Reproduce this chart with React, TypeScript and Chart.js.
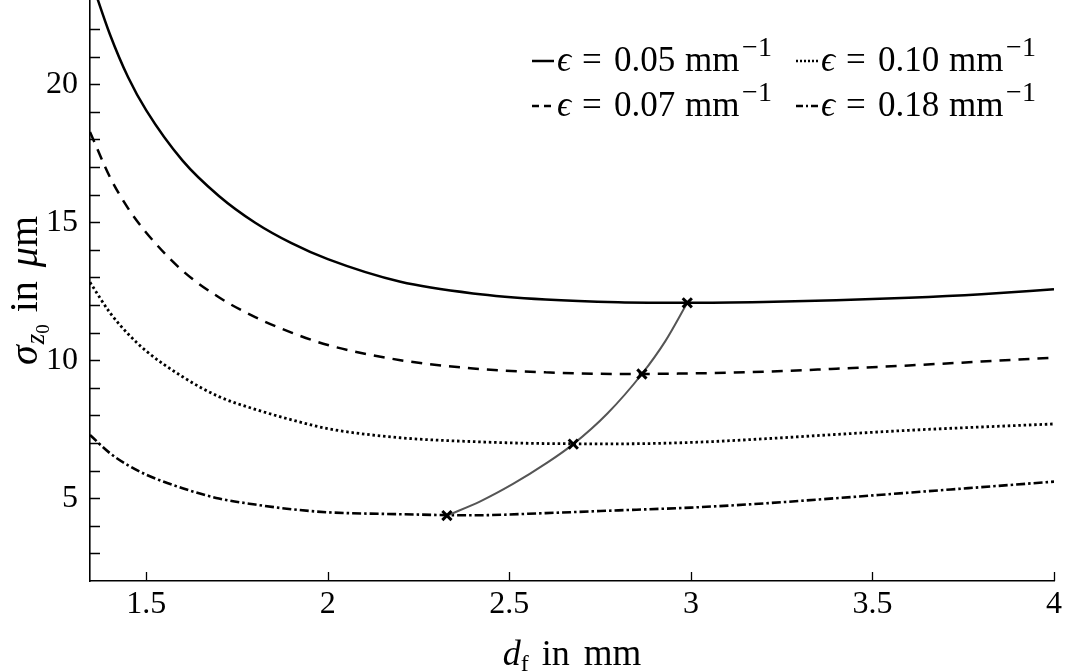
import { useEffect, useRef } from "react";
import { Chart, registerables } from "chart.js";

Chart.register(...registerables);

// ---------- data ----------
const dfGrid = [1.345, 1.4, 1.45, 1.5, 1.6, 1.7, 1.8, 1.9, 2.0, 2.2, 2.4, 2.6, 2.8, 3.0, 3.2, 3.4, 3.6, 3.8, 4.0];
const sigmaEps005 = [23.9, 21.8, 20.25, 19.05, 17.23, 15.95, 14.98, 14.24, 13.66, 12.84, 12.42, 12.2, 12.1, 12.08, 12.11, 12.17, 12.26, 12.39, 12.57];
const sigmaEps007 = [18.27, 16.63, 15.5, 14.62, 13.24, 12.28, 11.56, 11.0, 10.55, 10.0, 9.7, 9.56, 9.5, 9.52, 9.58, 9.69, 9.81, 9.95, 10.09];
const sigmaEps010 = [12.82, 11.72, 10.95, 10.33, 9.4, 8.68, 8.22, 7.84, 7.52, 7.19, 7.05, 6.98, 6.97, 7.02, 7.15, 7.31, 7.46, 7.58, 7.69];
const sigmaEps018 = [7.29, 6.63, 6.19, 5.85, 5.36, 4.99, 4.77, 4.6, 4.49, 4.42, 4.38, 4.46, 4.56, 4.66, 4.81, 5.0, 5.2, 5.4, 5.6];
const epsLabels = ["0.05", "0.07", "0.10", "0.18"];

const optimumDf = [2.328, 2.676, 2.865, 2.99];
const optimumSigma = [4.37, 6.96, 9.5, 12.08];
const optimumPathDf = [2.328, 2.42, 2.51, 2.6, 2.676, 2.77, 2.865, 2.93, 2.99];
const optimumPathSigma = [4.37, 4.885, 5.515, 6.25, 6.96, 8.07, 9.5, 10.7, 12.08];

const xTickValues = [1.5, 2, 2.5, 3, 3.5, 4];
const yTickValues = [5, 10, 15, 20];
const yMinorTicks = [3, 4, 5, 6, 7, 8, 9, 10, 11, 12, 13, 14, 15, 16, 17, 18, 19, 20, 21, 22];

// ---------- styles ----------
const SERIF = "'Liberation Serif', 'DejaVu Serif', serif";
const seriesDashes = [[], [11, 8], [2.5, 2.8], [9, 3, 2.5, 3]];
const seriesWidths = [2.5, 2.5, 2.8, 2.6];
const legendDashes = [[], [7, 5], [2, 2], [7, 3, 2, 3]];
const seriesSeries = [sigmaEps005, sigmaEps007, sigmaEps010, sigmaEps018];
const legendSlots = [
  { col: 0, row: 0 },
  { col: 0, row: 1 },
  { col: 1, row: 0 },
  { col: 1, row: 1 },
];

type Seg = { t: string; size: number; italic?: boolean; dy?: number; gap?: number; at?: number };

function segWidth(ctx: CanvasRenderingContext2D, segs: Seg[]) {
  let w = 0;
  for (const s of segs) {
    ctx.font = `${s.italic ? "italic " : ""}${s.size}px ${SERIF}`;
    w += ctx.measureText(s.t).width + (s.gap || 0);
  }
  return w;
}

function drawSegs(ctx: CanvasRenderingContext2D, segs: Seg[], x: number, y: number) {
  let cx = x;
  ctx.textBaseline = "alphabetic";
  ctx.textAlign = "left";
  for (const s of segs) {
    ctx.font = `${s.italic ? "italic " : ""}${s.size}px ${SERIF}`;
    if (s.at !== undefined) cx = x + s.at;
    ctx.fillText(s.t, cx, y + (s.dy || 0));
    cx += ctx.measureText(s.t).width + (s.gap || 0);
  }
}

const decorPlugin = {
  id: "decor",
  afterDraw(chart: any) {
    const ctx: CanvasRenderingContext2D = chart.ctx;
    const { left, right, top, bottom } = chart.chartArea;
    const xs = chart.scales.x;
    const ys = chart.scales.y;
    ctx.save();
    // inward tick marks
    ctx.strokeStyle = "#000";
    ctx.lineWidth = 1.3;
    ctx.beginPath();
    for (const v of yMinorTicks) {
      const py = Math.round(ys.getPixelForValue(v)) + 0.5;
      ctx.moveTo(left, py);
      ctx.lineTo(left + 10, py);
    }
    for (const v of xTickValues) {
      const px = Math.round(xs.getPixelForValue(v)) + 0.5;
      ctx.moveTo(px, bottom);
      ctx.lineTo(px, bottom - 9);
    }
    ctx.stroke();

    ctx.fillStyle = "#000";
    // x axis title
    const xt: Seg[] = [
      { t: "d", size: 36, italic: true },
      { t: "f", size: 24, dy: 6, gap: 13 },
      { t: "in", size: 36, gap: 14 },
      { t: "mm", size: 37 },
    ];
    const xw = segWidth(ctx, xt);
    drawSegs(ctx, xt, (left + right) / 2 - xw / 2, 665);

    // y axis title (rotated)
    const yt: Seg[] = [
      { t: "σ", size: 40, italic: true, gap: 1 },
      { t: "z", size: 27, italic: true, dy: 7 },
      { t: "0", size: 19, dy: 12, gap: 12 },
      { t: "in", size: 40, gap: 14 },
      { t: "μ", size: 40, italic: true },
      { t: "m", size: 40 },
    ];
    const yw = segWidth(ctx, yt);
    ctx.save();
    ctx.translate(37, (top + bottom) / 2);
    ctx.rotate(-Math.PI / 2);
    drawSegs(ctx, yt, -yw / 2, 0);
    ctx.restore();

    // legend
    const colLineX = [532, 796];
    const lineLen = 22;
    const rowY = [71, 116];
    for (let i = 0; i < epsLabels.length; i++) {
      const slot = legendSlots[i];
      const lx = colLineX[slot.col];
      const ly = rowY[slot.row] - 10;
      ctx.save();
      ctx.strokeStyle = "#000";
      ctx.lineWidth = 2.5;
      ctx.setLineDash(legendDashes[i]);
      ctx.beginPath();
      ctx.moveTo(lx, ly);
      ctx.lineTo(lx + lineLen, ly);
      ctx.stroke();
      ctx.restore();
      const segs: Seg[] = [
        { t: "ϵ", size: 35, italic: true, at: 0 },
        { t: "=", size: 35, at: 25 },
        { t: epsLabels[i], size: 35, at: 57 },
        { t: "mm", size: 35, at: 128 },
        { t: "−", size: 28, dy: -15, at: 185 },
        { t: "1", size: 28, dy: -15, at: 201 },
      ];
      drawSegs(ctx, segs, lx + lineLen + 3, rowY[slot.row]);
    }
    ctx.restore();
  },
};

export default function App() {
  const ref = useRef<HTMLCanvasElement | null>(null);

  useEffect(() => {
    if (!ref.current) return;
    const lineSets = seriesSeries.map((vals, i) => ({
      label: `ϵ = ${epsLabels[i]} mm⁻¹`,
      data: dfGrid.map((x, k) => ({ x, y: vals[k] })),
      borderColor: "#000",
      borderWidth: seriesWidths[i],
      borderDash: seriesDashes[i],
      pointRadius: 0,
      cubicInterpolationMode: "monotone" as const,
      fill: false,
      order: 3,
    }));
    const chart = new Chart(ref.current, {
      type: "line",
      data: {
        datasets: [
          {
            label: "optimum",
            data: optimumDf.map((x, k) => ({ x, y: optimumSigma[k] })),
            showLine: false,
            pointStyle: "crossRot",
            pointRadius: 6.5,
            pointBorderWidth: 3,
            pointBorderColor: "#000",
            borderColor: "#000",
            order: 1,
          } as any,
          {
            label: "optimum path",
            data: optimumPathDf.map((x, k) => ({ x, y: optimumPathSigma[k] })),
            borderColor: "#555",
            borderWidth: 2,
            pointRadius: 0,
            cubicInterpolationMode: "monotone",
            fill: false,
            order: 2,
          } as any,
          ...lineSets,
        ],
      },
      options: {
        responsive: false,
        animation: false,
        devicePixelRatio: 1,
        layout: { autoPadding: false, padding: { left: 0, top: 0, right: 13, bottom: 0 } },
        plugins: {
          legend: { display: false },
          tooltip: { enabled: false },
        },
        scales: {
          x: {
            type: "linear",
            min: 1.345,
            max: 4,
            afterBuildTicks: (s: any) => {
              s.ticks = xTickValues.map((v) => ({ value: v }));
            },
            afterFit: (s: any) => {
              s.height = 90;
              s.paddingLeft = 0;
              s.paddingRight = 0;
            },
            ticks: {
              autoSkip: false,
              maxRotation: 0,
              padding: 4,
              color: "#000",
              font: { family: SERIF, size: 32 },
              callback: (v: any) => String(v),
            },
            grid: { display: true, drawOnChartArea: false, drawTicks: false },
            border: { display: true, color: "#000", width: 1.6 },
          },
          y: {
            type: "linear",
            min: 2,
            max: 23.05,
            afterBuildTicks: (s: any) => {
              s.ticks = yTickValues.map((v) => ({ value: v }));
            },
            afterFit: (s: any) => {
              s.width = 90;
              s.paddingTop = 0;
              s.paddingBottom = 0;
            },
            ticks: {
              autoSkip: false,
              padding: 12,
              color: "#000",
              font: { family: SERIF, size: 32 },
              callback: (v: any) => String(v),
            },
            grid: { display: true, drawOnChartArea: false, drawTicks: false },
            border: { display: true, color: "#000", width: 1.6 },
          },
        },
      },
      plugins: [decorPlugin],
    });
    return () => chart.destroy();
  }, []);

  return (
    <div style={{ position: "absolute", left: 0, top: 0, width: 1067, height: 671, background: "#fff" }}>
      <canvas ref={ref} width={1067} height={671} style={{ width: 1067, height: 671 }} />
    </div>
  );
}
